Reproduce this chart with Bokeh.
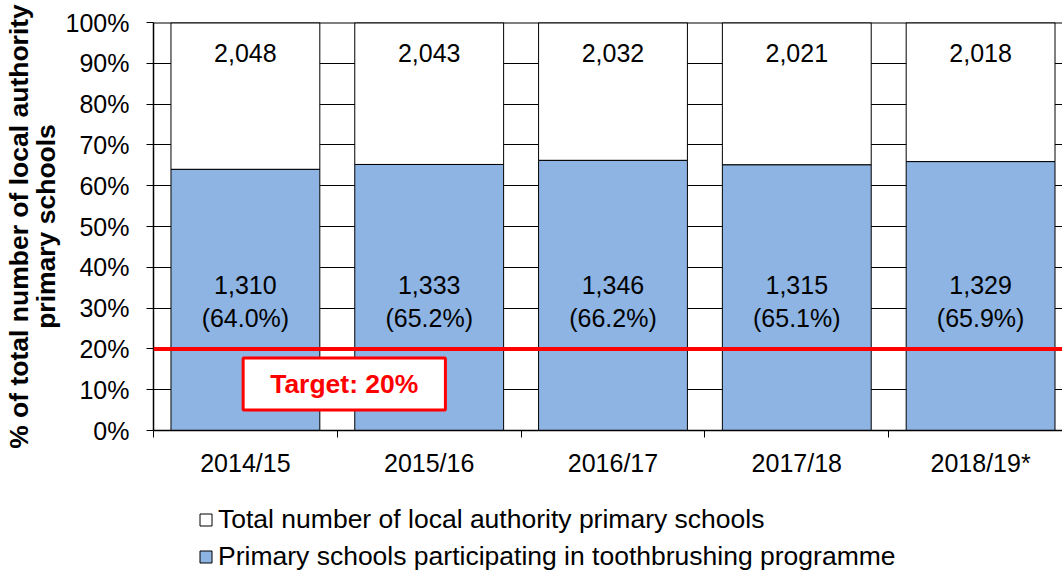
from bokeh.plotting import figure
from bokeh.layouts import column
from bokeh.models import (Range1d, FixedTicker, Span, Label, Legend, LegendItem,
                          ColumnDataSource)
from bokeh.embed import file_html
from bokeh.resources import INLINE
from bokeh.core.properties import value

years = ["2014/15", "2015/16", "2016/17", "2017/18", "2018/19*"]
total_schools = [2048, 2043, 2032, 2021, 2018]
participating = [1310, 1333, 1346, 1315, 1329]
participating_pct = [64.0, 65.2, 66.2, 65.1, 65.9]
target_pct = 20
legend_labels = ["Total number of local authority primary schools",
                 "Primary schools participating in toothbrushing programme"]

BLUE = "#8EB4E3"
FONT = "Liberation Sans"

xs = [i + 0.5 for i in range(len(years))]
src = ColumnDataSource(dict(
    x=xs,
    pct=participating_pct,
    top=[100] * len(years),
    total_lbl=[f"{v:,}" for v in total_schools],
    part_lbl=[f"{v:,}" for v in participating],
    pct_lbl=[f"({v:.1f}%)" for v in participating_pct],
    lbl_y_total=[92.6] * len(years),
    lbl_y_part=[35.6] * len(years),
    lbl_y_pct=[27.5] * len(years),
))

p = figure(width=1062, height=492, output_backend="svg", toolbar_location=None,
           x_range=Range1d(0, 910 / 184), y_range=Range1d(0, 100),
           min_border_left=152, min_border_top=22, min_border_right=0,
           min_border_bottom=62)
p.outline_line_color = None
p.background_fill_color = "white"

# gridlines
p.xgrid.visible = False
p.ygrid.ticker = FixedTicker(ticks=list(range(0, 101, 10)))
p.ygrid.grid_line_color = "black"
p.ygrid.grid_line_width = 1

bw = 149 / 184
r_total = p.vbar(x="x", bottom="pct", top="top", width=bw, source=src,
                 fill_color="white", line_color="black", line_width=1)
r_part = p.vbar(x="x", bottom=0, top="pct", width=bw, source=src,
                fill_color=BLUE, line_color="black", line_width=1)

p.add_layout(Span(location=100, dimension="width", line_color="black", line_width=2))

for col, ycol in [("total_lbl", "lbl_y_total"), ("part_lbl", "lbl_y_part"),
                  ("pct_lbl", "lbl_y_pct")]:
    p.text(x="x", y=ycol, text=col, source=src, text_align="center",
           text_baseline="middle", text_font=value(FONT), text_font_size="25px",
           text_color="black")

# target line
p.add_layout(Span(location=target_pct, dimension="width", line_color="#FF0000",
                  line_width=4))
p.add_layout(Label(x=1.038, y=11.4, text=f"Target: {target_pct}%",
                   text_align="center", text_baseline="middle",
                   text_font=FONT, text_font_size="26.5px", text_font_style="bold",
                   text_color="#FF0000", background_fill_color="white",
                   border_line_color="#FF0000", border_line_width=3,
                   padding=(27, 11)))

# axes
p.yaxis.ticker = FixedTicker(ticks=list(range(0, 101, 10)))
p.yaxis.major_label_overrides = {v: f"{v}%" for v in range(0, 101, 10)}
p.yaxis.major_label_text_font = FONT
p.yaxis.major_label_text_font_size = "25px"
p.yaxis.major_label_text_color = "black"
p.yaxis.major_tick_out = 7
p.yaxis.major_tick_in = 0
p.yaxis.minor_tick_line_color = None
p.yaxis.major_label_standoff = 17
p.yaxis.axis_line_color = "black"
p.yaxis.axis_line_width = 1.5
p.yaxis.axis_label = "% of total number of local authority\nprimary schools"
p.yaxis.axis_label_text_font = FONT
p.yaxis.axis_label_text_font_size = "26.5px"
p.yaxis.axis_label_text_font_style = "bold"
p.yaxis.axis_label_text_color = "black"
p.yaxis.axis_label_text_line_height = 0.9
p.yaxis.axis_label_standoff = 2

p.xaxis.ticker = FixedTicker(ticks=xs, minor_ticks=list(range(0, len(years) + 1)))
p.xaxis.major_label_overrides = {x: y for x, y in zip(xs, years)}
p.xaxis.major_label_text_font = FONT
p.xaxis.major_label_text_font_size = "25px"
p.xaxis.major_label_text_color = "black"
p.xaxis.major_tick_line_color = None
p.xaxis.minor_tick_out = 7
p.xaxis.minor_tick_in = 0
p.xaxis.minor_tick_line_color = "black"
p.xaxis.major_label_standoff = 11
p.xaxis.axis_line_color = "black"
p.xaxis.axis_line_width = 1.5

# legend in its own strip below (frame aligned with the main plot's frame)
lf = figure(width=1062, height=80, output_backend="svg", toolbar_location=None,
            x_range=Range1d(0, 1), y_range=Range1d(1000, 1001),
            x_axis_location=None, y_axis_location=None,
            min_border=0)
lf.outline_line_color = None
lf.xgrid.visible = False
lf.ygrid.visible = False
d_total = lf.vbar(x="x", bottom="pct", top="top", width=bw, source=src,
                  fill_color="white", line_color="black", line_width=1)
d_part = lf.vbar(x="x", bottom=0, top="pct", width=bw, source=src,
                 fill_color=BLUE, line_color="black", line_width=1)
legend = Legend(items=[
    LegendItem(label=legend_labels[0], renderers=[d_total]),
    LegendItem(label=legend_labels[1], renderers=[d_part]),
], orientation="vertical", location=(45, 0))
legend.glyph_width = 15
legend.glyph_height = 15
legend.label_text_font = FONT
legend.label_text_font_size = "26.5px"
legend.label_text_color = "black"
legend.label_standoff = 5
legend.spacing = 6
legend.padding = 0
legend.margin = 0
legend.border_line_color = None
legend.background_fill_alpha = 0
lf.add_layout(legend)

open("out.html", "w").write(file_html(column(p, lf, spacing=0), INLINE))
